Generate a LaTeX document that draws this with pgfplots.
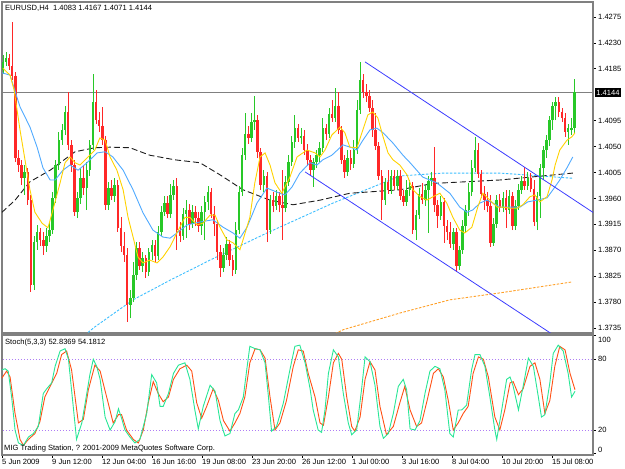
\documentclass[border=0pt]{standalone}
\usepackage{fontspec}
\setmainfont{Liberation Sans}
\usepackage{pgfplots}
\usepackage{pgfplotstable}
\pgfplotsset{compat=1.18}
\definecolor{cup}{RGB}{40,200,40}
\definecolor{cdn}{RGB}{255,40,40}
\definecolor{maY}{RGB}{255,210,0}
\definecolor{maB}{RGB}{80,170,255}
\definecolor{maC}{RGB}{60,190,255}
\definecolor{maO}{RGB}{255,160,40}
\definecolor{maK}{RGB}{30,30,30}
\definecolor{chan}{RGB}{60,60,255}
\definecolor{stK}{RGB}{40,230,150}
\definecolor{stD}{RGB}{255,80,20}
\definecolor{lvl}{RGB}{175,125,245}
\definecolor{frame}{RGB}{128,128,128}

\pgfplotstableread{
i O H L C
0 1.4183 1.4209 1.4176 1.4197
1 1.4197 1.4214 1.4190 1.4204
7 1.3996 1.4018 1.3966 1.4006
10 1.3810 1.3895 1.3801 1.3884
11 1.3884 1.3914 1.3871 1.3902
14 1.3878 1.3909 1.3867 1.3895
15 1.3895 1.3919 1.3884 1.3905
16 1.3905 1.3971 1.3898 1.3961
17 1.3961 1.4027 1.3952 1.4018
18 1.4018 1.4075 1.4009 1.4061
19 1.4061 1.4089 1.4053 1.4079
20 1.4079 1.4121 1.4070 1.4110
24 1.3936 1.3971 1.3926 1.3961
25 1.3961 1.4013 1.3950 1.3996
27 1.3978 1.4023 1.3940 1.4009
28 1.4009 1.4061 1.3999 1.4053
29 1.4053 1.4176 1.4044 1.4127
34 1.3949 1.3989 1.3940 1.3978
36 1.3964 1.3996 1.3954 1.3983
41 1.3775 1.3801 1.3752 1.3787
42 1.3787 1.3850 1.3780 1.3827
43 1.3827 1.3884 1.3818 1.3874
45 1.3843 1.3867 1.3832 1.3857
47 1.3832 1.3874 1.3825 1.3867
48 1.3867 1.3888 1.3853 1.3879
50 1.3860 1.3912 1.3853 1.3902
51 1.3902 1.3947 1.3895 1.3936
52 1.3936 1.3964 1.3930 1.3952
54 1.3933 1.3985 1.3926 1.3966
55 1.3966 1.3992 1.3957 1.3982
58 1.3895 1.3943 1.3888 1.3933
59 1.3933 1.3957 1.3891 1.3940
61 1.3916 1.3949 1.3909 1.3936
64 1.3912 1.3947 1.3897 1.3936
65 1.3936 1.3964 1.3888 1.3954
66 1.3954 1.3982 1.3940 1.3971
71 1.3839 1.3874 1.3832 1.3862
72 1.3862 1.3893 1.3853 1.3881
75 1.3836 1.3919 1.3829 1.3905
76 1.3905 1.3982 1.3898 1.3971
77 1.3971 1.4048 1.3964 1.4035
78 1.4035 1.4108 1.4027 1.4072
80 1.4065 1.4108 1.4058 1.4093
81 1.4093 1.4138 1.4079 1.4096
84 1.3983 1.4009 1.3971 1.3999
86 1.3905 1.3966 1.3898 1.3957
88 1.3947 1.3975 1.3940 1.3964
91 1.3943 1.3999 1.3936 1.3989
92 1.3989 1.4035 1.3982 1.4023
93 1.4023 1.4068 1.4016 1.4058
94 1.4058 1.4105 1.4048 1.4082
96 1.4065 1.4082 1.4055 1.4068
100 1.4009 1.4030 1.3980 1.4023
101 1.4023 1.4044 1.4013 1.4035
102 1.4035 1.4058 1.4023 1.4048
103 1.4048 1.4100 1.4041 1.4082
105 1.4072 1.4117 1.4065 1.4107
107 1.4100 1.4152 1.4093 1.4121
111 1.4006 1.4044 1.3999 1.4030
113 1.4020 1.4061 1.4013 1.4044
114 1.4044 1.4131 1.4037 1.4114
115 1.4114 1.4197 1.4107 1.4166
123 1.3957 1.3996 1.3949 1.3989
125 1.3975 1.4009 1.3968 1.3999
127 1.3982 1.4009 1.3975 1.3999
130 1.3954 1.3992 1.3947 1.3975
131 1.3975 1.3992 1.3964 1.3982
133 1.3905 1.3940 1.3888 1.3931
134 1.3931 1.3978 1.3924 1.3968
136 1.3957 1.3983 1.3947 1.3975
137 1.3975 1.3999 1.3900 1.3990
138 1.3990 1.4006 1.3982 1.3996
141 1.3930 1.3964 1.3923 1.3954
145 1.3881 1.3909 1.3871 1.3902
147 1.3843 1.3878 1.3836 1.3871
148 1.3871 1.3923 1.3864 1.3912
149 1.3912 1.3949 1.3902 1.3940
150 1.3940 1.3987 1.3930 1.3971
151 1.3971 1.4027 1.3964 1.4013
152 1.4013 1.4067 1.4006 1.4044
158 1.3883 1.3926 1.3878 1.3916
159 1.3916 1.3966 1.3909 1.3957
161 1.3943 1.3971 1.3936 1.3961
163 1.3940 1.3975 1.3933 1.3964
165 1.3912 1.3957 1.3905 1.3947
166 1.3947 1.3985 1.3940 1.3975
167 1.3975 1.3999 1.3968 1.3990
169 1.3982 1.4006 1.3975 1.3996
172 1.3919 1.3971 1.3905 1.3964
173 1.3964 1.4020 1.3926 1.4013
174 1.4013 1.4051 1.3992 1.4044
175 1.4044 1.4070 1.4030 1.4061
176 1.4061 1.4103 1.4051 1.4096
177 1.4096 1.4127 1.4079 1.4121
178 1.4121 1.4136 1.4096 1.4127
182 1.4075 1.4089 1.4053 1.4082
183 1.4078 1.4100 1.4070 1.4083
184 1.4083 1.4167 1.4071 1.4144
}\upbars

\pgfplotstableread{
i O H L C
2 1.4204 1.4211 1.4183 1.4190
3 1.4190 1.4266 1.4166 1.4173
4 1.4173 1.4180 1.4023 1.4030
5 1.4030 1.4044 1.4006 1.4018
6 1.4018 1.4027 1.3983 1.3996
8 1.4006 1.4013 1.3949 1.3957
9 1.3957 1.3966 1.3798 1.3810
12 1.3902 1.3909 1.3878 1.3888
13 1.3888 1.3902 1.3862 1.3878
21 1.4110 1.4145 1.4044 1.4053
22 1.4053 1.4061 1.4006 1.4018
23 1.4018 1.4027 1.3930 1.3936
26 1.3996 1.4018 1.3966 1.3978
30 1.4127 1.4148 1.4089 1.4096
31 1.4096 1.4110 1.4075 1.4086
32 1.4086 1.4119 1.4053 1.4061
33 1.4061 1.4068 1.3940 1.3949
35 1.3978 1.3992 1.3957 1.3964
37 1.3983 1.3992 1.3902 1.3909
38 1.3909 1.3928 1.3867 1.3878
39 1.3878 1.3902 1.3850 1.3862
40 1.3862 1.3874 1.3746 1.3775
44 1.3874 1.3884 1.3836 1.3843
46 1.3857 1.3862 1.3822 1.3832
49 1.3879 1.3888 1.3850 1.3860
53 1.3952 1.3964 1.3926 1.3933
56 1.3982 1.3996 1.3871 1.3905
57 1.3905 1.3919 1.3884 1.3895
60 1.3940 1.3950 1.3905 1.3916
62 1.3936 1.3947 1.3912 1.3926
63 1.3926 1.3936 1.3902 1.3912
67 1.3971 1.3978 1.3926 1.3933
68 1.3933 1.3947 1.3895 1.3916
69 1.3916 1.3923 1.3853 1.3867
70 1.3867 1.3879 1.3824 1.3839
73 1.3881 1.3888 1.3843 1.3853
74 1.3853 1.3862 1.3825 1.3836
79 1.4072 1.4086 1.4055 1.4065
82 1.4096 1.4105 1.4030 1.4041
83 1.4041 1.4048 1.3975 1.3983
85 1.3999 1.4006 1.3884 1.3905
87 1.3957 1.3971 1.3936 1.3947
89 1.3964 1.3971 1.3936 1.3949
90 1.3949 1.4009 1.3888 1.3943
95 1.4082 1.4089 1.4058 1.4065
97 1.4068 1.4079 1.4035 1.4044
98 1.4044 1.4055 1.4016 1.4027
99 1.4027 1.4035 1.3999 1.4009
104 1.4082 1.4089 1.4061 1.4072
106 1.4107 1.4131 1.4093 1.4100
108 1.4121 1.4145 1.4072 1.4079
109 1.4079 1.4086 1.4020 1.4027
110 1.4027 1.4035 1.3996 1.4006
112 1.4030 1.4044 1.4009 1.4020
116 1.4166 1.4176 1.4134 1.4145
117 1.4145 1.4159 1.4127 1.4138
118 1.4138 1.4148 1.4110 1.4117
119 1.4117 1.4131 1.4067 1.4079
120 1.4079 1.4108 1.4044 1.4051
121 1.4051 1.4058 1.3992 1.3999
122 1.3999 1.4009 1.3923 1.3957
124 1.3989 1.4009 1.3968 1.3975
126 1.3999 1.4009 1.3975 1.3982
128 1.3999 1.4009 1.3957 1.3964
129 1.3964 1.3975 1.3947 1.3954
132 1.3982 1.3989 1.3898 1.3905
135 1.3968 1.3987 1.3950 1.3957
139 1.3996 1.4049 1.3936 1.3949
140 1.3949 1.3957 1.3909 1.3930
142 1.3954 1.3961 1.3883 1.3912
143 1.3912 1.3923 1.3888 1.3902
144 1.3902 1.3919 1.3874 1.3881
146 1.3902 1.3909 1.3832 1.3843
153 1.4044 1.4056 1.3996 1.4002
154 1.4002 1.4009 1.3961 1.3968
155 1.3968 1.3982 1.3940 1.3957
156 1.3957 1.3971 1.3936 1.3947
157 1.3947 1.3966 1.3876 1.3883
160 1.3957 1.3968 1.3936 1.3943
162 1.3961 1.3975 1.3909 1.3940
164 1.3964 1.3971 1.3905 1.3912
168 1.3990 1.4015 1.3975 1.3982
170 1.3996 1.4004 1.3971 1.3976
171 1.3976 1.3992 1.3912 1.3919
179 1.4127 1.4136 1.4101 1.4110
180 1.4110 1.4117 1.4093 1.4100
181 1.4100 1.4108 1.4067 1.4075
}\dnbars

\begin{document}
\begin{tikzpicture}[font=\fontsize{7.6}{8.6}\selectfont]
\path[use as bounding box] (0,0) rectangle (625bp,469bp);

\begin{axis}[
  at={(2bp,136bp)}, anchor=south west,
  width=591bp, height=331bp, scale only axis,
  xmin=-0.3, xmax=190, ymin=1.37264, ymax=1.4301,
  clip mode=individual,
  axis line style={draw=frame, line width=1.3bp},
  xtick=\empty,
  ytick={1.3735,1.3780,1.3825,1.3870,1.3915,1.3960,1.4005,1.4050,1.4095,1.4185,1.4230,1.4275},
  yticklabels={1.3735,1.3780,1.3825,1.3870,1.3915,1.3960,1.4005,1.4050,1.4095,1.4185,1.4230,1.4275},
  ytick pos=right, yticklabel pos=right,
  tick align=outside, major tick length=2.5bp,
  tick style={draw=black, line width=0.7bp},
  yticklabel style={anchor=west, inner sep=0pt, xshift=2.5bp, font=\fontsize{7.6}{8.6}\selectfont},
]
% bid line
\addplot[frame, line width=0.9bp] coordinates {(-1,1.4144) (191,1.4144)};
% long MAs
\addplot[maC, line width=0.9bp, dash pattern=on 2.5bp off 1.5bp] coordinates {
(26.4,1.3723) (29.6,1.3737) (41.9,1.3784) (53.8,1.3818) (66.7,1.3853) (85.0,1.3900) (106.3,1.3952) (122.4,1.3987) (127.8,1.3999) (141.7,1.4004) (160.0,1.4004) (183.5,1.3995)};
\addplot[maO, line width=0.9bp, dash pattern=on 2.5bp off 1.5bp] coordinates {
(106.9,1.3725) (109.5,1.3732) (127.8,1.3761) (143.9,1.3784) (160.0,1.3796) (183.2,1.3815)};
\addplot[maK, line width=0.9bp, dash pattern=on 6bp off 3bp] coordinates {
(-0.3,1.3936) (3.9,1.3957) (8.7,1.3989) (15.2,1.4009) (23.2,1.4041) (29.6,1.4048) (34.5,1.4049) (40.9,1.4048) (47.3,1.4035) (55.4,1.4027) (63.4,1.4022) (69.9,1.4001) (77.3,1.3975) (86.0,1.3957) (93.4,1.3949) (102.1,1.3957) (111.7,1.3969) (127.8,1.3975) (138.5,1.3986) (160.0,1.3992) (183.5,1.4004)};
% candles: wicks
\addplot[cup, line width=0.8bp, quiver={u=0, v=\thisrow{H}-\thisrow{L}}] table[x=i, y=L] {\upbars};
\addplot[cdn, line width=0.8bp, quiver={u=0, v=\thisrow{H}-\thisrow{L}}] table[x=i, y=L] {\dnbars};
% candles: bodies
\addplot[cup, line width=2.5bp, quiver={u=0, v=\thisrow{C}-\thisrow{O}}] table[x=i, y=O] {\upbars};
\addplot[cdn, line width=2.5bp, quiver={u=0, v=\thisrow{C}-\thisrow{O}}] table[x=i, y=O] {\dnbars};
% fast MAs
\addplot[maB, line width=0.9bp] coordinates {
(-0.3,1.4178) (2.3,1.4174) (5.5,1.4119) (8.7,1.4084) (11.0,1.4049) (12.9,1.4013) (15.2,1.3992) (16.8,1.3992) (19.3,1.4009) (21.6,1.4018) (24.2,1.4009) (27.1,1.4022) (30.3,1.4039) (32.9,1.4041) (35.4,1.4032) (38.7,1.4009) (41.9,1.3975) (45.1,1.3935) (48.3,1.3905) (51.5,1.3893) (53.8,1.3891) (56.0,1.3900) (59.3,1.3914) (63.4,1.3919) (67.6,1.3923) (70.9,1.3910) (74.1,1.3900) (76.3,1.3891) (78.6,1.3910) (81.8,1.3952) (85.0,1.3978) (88.2,1.3971) (90.8,1.3966) (93.1,1.3980) (95.6,1.4004) (98.9,1.4022) (101.1,1.4018) (103.0,1.4027) (105.9,1.4035) (109.5,1.4053) (112.4,1.4048) (114.0,1.4044) (115.9,1.4061) (118.2,1.4079) (120.4,1.4082) (122.4,1.4074) (125.6,1.4056) (128.8,1.4035) (131.1,1.4022) (135.2,1.3997) (139.7,1.3987) (143.9,1.3969) (147.1,1.3945) (149.4,1.3936) (151.3,1.3940) (153.6,1.3952) (155.8,1.3957) (157.8,1.3952) (160.0,1.3945) (163.3,1.3945) (166.5,1.3945) (169.0,1.3954) (171.9,1.3957) (175.2,1.3961) (177.1,1.3975) (179.3,1.3992) (181.6,1.4013) (183.5,1.4032)};
\addplot[maY, line width=0.9bp] coordinates {
(0,1.4186) (2.3,1.4174) (3.6,1.4148) (5.5,1.4079) (7.1,1.4027) (8.7,1.3975) (10.3,1.3936) (12.6,1.3917) (14.5,1.3909) (16.1,1.3940) (18.4,1.3987) (20.0,1.4022) (21.6,1.4032) (23.2,1.4022) (24.8,1.4018) (27.4,1.4032) (29.6,1.4044) (31.2,1.4065) (32.9,1.4061) (34.5,1.4032) (36.7,1.4009) (38.7,1.3975) (40.3,1.3927) (41.9,1.3893) (43.5,1.3858) (45.1,1.3848) (47.3,1.3853) (49.6,1.3848) (51.5,1.3858) (53.8,1.3876) (56.0,1.3900) (58.6,1.3927) (60.2,1.3927) (62.5,1.3914) (64.4,1.3917) (66.7,1.3931) (68.3,1.3931) (69.9,1.3910) (72.1,1.3888) (74.1,1.3883) (76.3,1.3871) (77.3,1.3888) (79.5,1.3927) (81.1,1.3987) (82.8,1.4032) (84.4,1.4039) (86.0,1.4018) (87.6,1.3987) (89.8,1.3969) (92.4,1.3997) (94.7,1.4032) (97.9,1.4044) (100.5,1.4039) (102.1,1.4032) (103.7,1.4044) (105.9,1.4070) (108.5,1.4084) (110.1,1.4074) (111.7,1.4049) (114.0,1.4048) (115.9,1.4079) (117.5,1.4105) (119.1,1.4110) (120.7,1.4100) (122.4,1.4067) (124.0,1.4039) (125.6,1.4027) (127.8,1.4018) (130.1,1.4001) (132.0,1.3975) (134.3,1.3963) (136.5,1.3957) (138.5,1.3963) (140.7,1.3969) (142.9,1.3952) (144.9,1.3927) (147.1,1.3905) (148.7,1.3900) (151.0,1.3910) (152.9,1.3945) (154.5,1.3969) (156.8,1.3957) (159.1,1.3945) (161.0,1.3945) (163.3,1.3943) (165.5,1.3943) (167.4,1.3949) (169.7,1.3963) (171.3,1.3966) (172.9,1.3954) (175.2,1.3963) (176.8,1.3992) (177.8,1.4018) (179.3,1.4044) (181.6,1.4061) (183.2,1.4067) (184.2,1.4074)};
% channel
\addplot[chan, line width=0.8bp] coordinates {(116.6,1.4197) (190.5,1.3934)};
\addplot[chan, line width=0.8bp] coordinates {(97.3,1.4006) (177.8,1.3721)};
\end{axis}

\begin{axis}[
  at={(2bp,14bp)}, anchor=south west,
  width=591bp, height=120bp, scale only axis,
  xmin=-0.3, xmax=190, ymin=-1.2, ymax=100.6,
  axis line style={draw=frame, line width=1.3bp},
  xtick={-0.3,15.8,31.9,48.0,64.1,80.2,96.3,112.4,128.5,144.6,160.7,176.8},
  xticklabels={5 Jun 2009,9 Jun 12:00,12 Jun 04:00,16 Jun 16:00,19 Jun 08:00,23 Jun 20:00,26 Jun 12:00,1 Jul 00:00,3 Jul 16:00,8 Jul 04:00,10 Jul 20:00,15 Jul 08:00},
  ytick={0,20,80,100},
  yticklabels={\smash{\raisebox{0.9bp}{0}},20,80,\smash{\raisebox{-7bp}{100}}},
  xtick pos=bottom, ytick pos=right, yticklabel pos=right,
  tick align=outside, major tick length=2.5bp,
  tick style={draw=black, line width=0.7bp},
  xticklabel style={anchor=north west, inner sep=0pt, yshift=-1.5bp, font=\fontsize{7.6}{8.6}\selectfont},
  yticklabel style={anchor=west, inner sep=0pt, xshift=2.5bp, font=\fontsize{7.6}{8.6}\selectfont},
]
\addplot[lvl, line width=1bp, dash pattern=on 1.5bp off 1.5bp] coordinates {(-1,20) (191,20)};
\addplot[lvl, line width=1bp, dash pattern=on 1.5bp off 1.5bp] coordinates {(-1,80) (191,80)};
\addplot[stD, line width=0.9bp] coordinates {
(-0.9,62) (1.2,70) (2.3,65) (3.9,34) (5.5,12) (6.6,7) (8.2,12) (10.3,17) (11.9,27) (13.5,48) (15.2,57) (17.3,68) (18.9,84) (20.5,87) (22.1,71) (24.3,26) (25.9,29) (27.5,54) (29.6,75) (31.3,70) (33.4,48) (35.5,26) (37.2,33) (38.2,33) (39.8,20) (42.0,12) (43.6,9) (45.2,20) (46.8,43) (48.4,61) (50.0,51) (51.6,44) (53.3,48) (54.9,63) (57.0,72) (59.2,75) (60.8,70) (62.4,43) (64.0,30) (65.6,40) (67.7,55) (69.4,45) (71.0,28) (73.1,19) (74.7,26) (76.3,34) (77.9,48) (79.5,77) (81.2,89) (82.8,88) (84.4,81) (86.0,48) (87.6,20) (89.2,26) (91.3,45) (93.5,74) (95.1,88) (96.7,87) (98.3,68) (100.5,48) (102.1,26) (103.2,24) (104.8,48) (106.4,77) (108.0,85) (109.1,80) (110.7,48) (112.3,23) (113.3,19) (115.0,31) (116.6,63) (118.2,78) (119.8,71) (121.4,40) (123.5,16) (125.7,23) (127.8,43) (129.4,57) (131.1,37) (133.2,23) (134.8,26) (136.4,43) (138.6,68) (140.2,72) (141.8,65) (143.4,45) (145.0,20) (146.6,26) (148.2,34) (149.8,40) (151.4,68) (153.1,82) (154.7,80) (156.3,65) (158.4,31) (160.0,20) (161.6,37) (163.3,60) (164.3,61) (166.0,50) (167.5,55) (169.7,74) (171.3,77) (172.9,63) (174.5,34) (176.1,45) (177.7,74) (179.3,91) (181.0,88) (182.6,68) (184.2,54.2)};
\addplot[stK, line width=0.9bp] coordinates {
(-0.3,71) (0.7,72) (1.7,70) (2.8,48) (3.9,20) (5.0,9) (6.6,7) (8.2,14) (9.8,17) (11.4,23) (13.0,51) (14.1,55) (15.7,60) (16.8,74) (18.4,87) (20.0,89) (21.1,80) (22.1,54) (23.7,12) (25.4,26) (27.0,51) (28.0,67) (29.1,80) (30.2,74) (31.3,63) (32.9,31) (34.5,20) (36.1,27) (37.2,38) (38.2,30) (39.3,20) (40.9,14) (42.5,9) (44.1,12) (46.3,34) (47.9,67) (49.5,60) (50.6,40) (51.6,40) (53.3,51) (54.9,68) (56.5,75) (58.6,77) (60.2,63) (61.8,37) (62.9,21) (64.5,40) (66.7,58) (68.3,53) (69.9,28) (71.5,15) (73.1,17) (74.7,34) (75.8,37) (77.4,48) (78.5,71) (79.5,91) (81.2,89) (82.8,88) (84.4,77) (85.5,48) (86.5,19) (88.1,23) (90.3,43) (92.4,71) (94.0,91) (95.6,92) (97.3,77) (98.9,55) (99.9,37) (101.5,20) (102.6,18) (103.7,37) (104.8,68) (106.4,88) (108.0,82) (109.6,51) (111.2,26) (112.3,16) (113.9,20) (115.5,55) (116.6,82) (118.2,78) (119.8,58) (121.4,23) (122.5,13) (124.1,17) (125.7,34) (127.3,57) (128.9,63) (130.0,54) (131.1,21) (132.7,20) (134.3,28) (135.9,51) (137.5,70) (139.1,74) (140.7,72) (142.3,54) (143.9,17) (145.0,14) (146.6,37) (147.7,37) (149.3,41) (150.9,71) (152.0,84) (153.6,84) (155.2,74) (156.8,48) (158.4,20) (159.0,12) (160.6,37) (162.2,63) (163.3,65) (164.3,57) (166.0,37) (167.5,57) (169.2,81) (170.8,74) (172.4,48) (173.4,31) (174.5,33) (176.1,60) (177.2,85) (178.8,92) (180.4,87) (182.0,68) (183.1,48) (184.2,52.8)};
\end{axis}

% texts
\node[anchor=west, inner sep=0pt] at (5bp,461bp) {EURUSD,H4\ \ 1.4083 1.4167 1.4071 1.4144};
\node[anchor=west, inner sep=0pt] at (5bp,126bp) {Stoch(5,3,3) 52.8369 54.1812};
\node[anchor=west, inner sep=0pt] at (4bp,20.5bp) {MIG Trading Station, ? 2001-2009 MetaQuotes Software Corp.};
\node[anchor=west, fill=black, text=white, inner xsep=1.2bp, inner ysep=1.5bp] at (595bp,376.5bp) {1.4144};
\end{tikzpicture}
\end{document}
